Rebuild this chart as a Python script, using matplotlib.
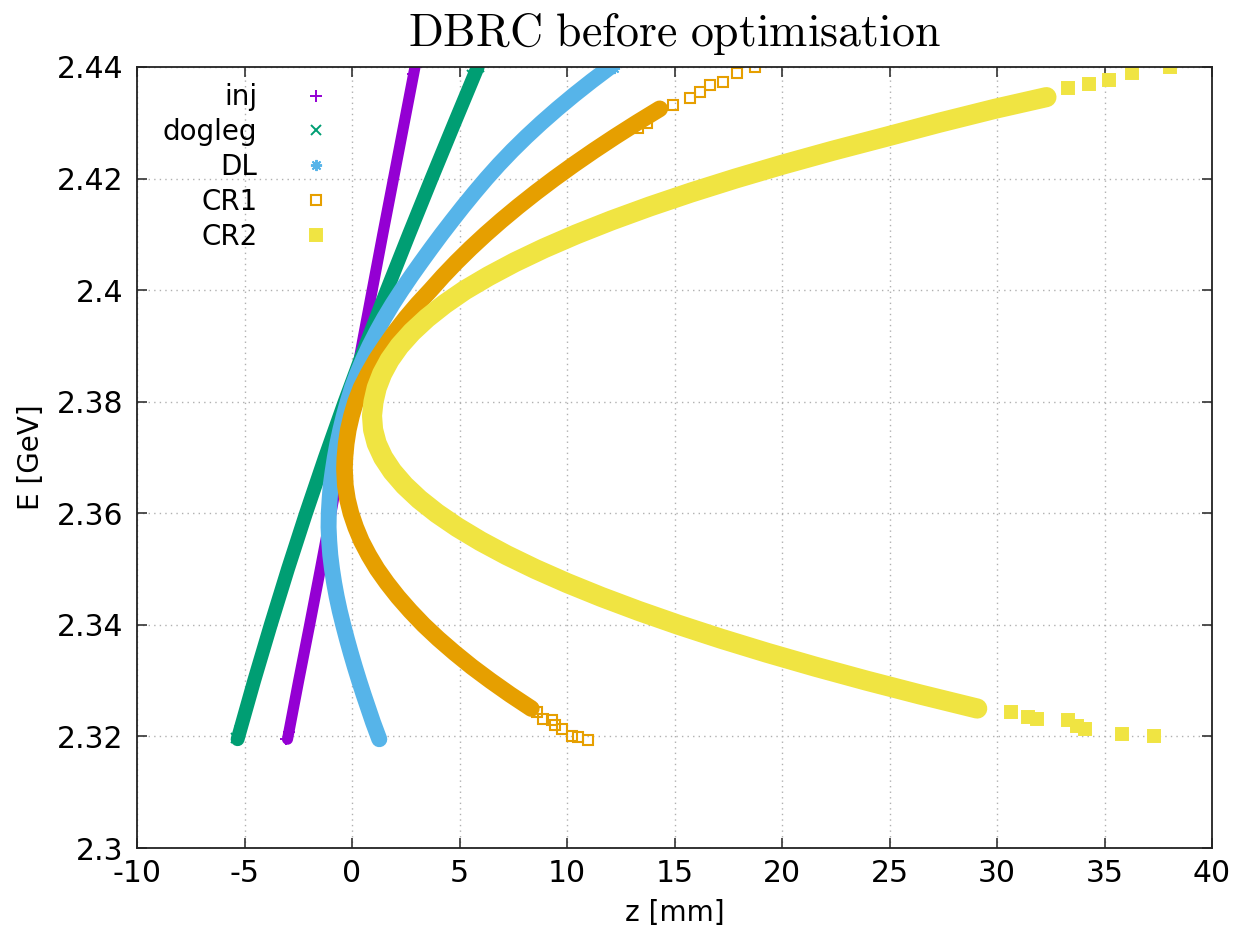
import matplotlib
matplotlib.use("Agg")
import matplotlib.pyplot as plt
from matplotlib.ticker import FormatStrFormatter, MultipleLocator

plt.rcParams["mathtext.fontset"] = "cm"
plt.rcParams["font.family"] = ["DejaVu Sans"]
plt.rcParams["axes.unicode_minus"] = False

# E [GeV] vs z [mm].
# "core" = dense part drawn as a thick band, "tail" = isolated markers.
inj_E = [2.3195, 2.33, 2.34, 2.35, 2.36, 2.37, 2.38, 2.39, 2.40, 2.41, 2.42, 2.43, 2.44]
inj_z = [-3.0, -2.48, -1.97, -1.47, -0.98, -0.5, -0.03, 0.45, 0.94, 1.43, 1.93, 2.43, 2.93]
inj_tail_E = [2.3195, 2.3208, 2.4388, 2.44]
inj_tail_z = [-3.05, -2.95, 2.85, 2.97]

dogleg_E = [2.3195, 2.33, 2.34, 2.35, 2.36, 2.37, 2.38, 2.39, 2.40, 2.41, 2.42, 2.43, 2.44]
dogleg_z = [-5.32, -4.55, -3.78, -2.98, -2.14, -1.26, -0.34, 0.62, 1.62, 2.65, 3.7, 4.77, 5.85]
dogleg_tail_E = [2.3198, 2.3212, 2.4386, 2.44]
dogleg_tail_z = [-5.4, -5.2, 5.6, 5.9]

dl_E = [2.3195, 2.3225, 2.325, 2.3275, 2.33, 2.3325, 2.335, 2.3375, 2.34, 2.3425,
        2.345, 2.3475, 2.35, 2.3525, 2.355, 2.3575, 2.36, 2.3625, 2.365, 2.3675,
        2.37, 2.3725, 2.375, 2.3775, 2.38, 2.3825, 2.385, 2.3875, 2.39, 2.3925,
        2.395, 2.3975, 2.40, 2.4025, 2.405, 2.4075, 2.41, 2.4125, 2.415, 2.4175,
        2.42, 2.4225, 2.425, 2.4275, 2.43, 2.4325, 2.435, 2.4375, 2.44]
dl_z = [1.27, 0.98, 0.76, 0.54, 0.33, 0.13, -0.06, -0.24, -0.41, -0.57,
        -0.71, -0.83, -0.93, -1.01, -1.06, -1.09, -1.08, -1.04, -0.99, -0.90,
        -0.80, -0.68, -0.54, -0.38, -0.20, 0.0, 0.24, 0.51, 0.81, 1.14,
        1.50, 1.89, 2.31, 2.75, 3.21, 3.68, 4.16, 4.66, 5.17, 5.70,
        6.25, 6.83, 7.45, 8.11, 8.81, 9.55, 10.33, 11.15, 12.01]
dl_tail_E = [2.3198, 2.4382, 2.4398]
dl_tail_z = [1.2, 11.3, 12.2]

cr1_E = [2.325, 2.3275, 2.33, 2.3325, 2.335, 2.3375, 2.34, 2.3425, 2.345, 2.3475,
         2.35, 2.3525, 2.355, 2.3575, 2.36, 2.3625, 2.365, 2.368, 2.37, 2.3725,
         2.375, 2.3775, 2.38, 2.3825, 2.385, 2.3875, 2.39, 2.3925, 2.395, 2.3975,
         2.40, 2.4025, 2.405, 2.4075, 2.41, 2.4125, 2.415, 2.4175, 2.42, 2.4225,
         2.425, 2.4275, 2.43, 2.4325]
cr1_z = [8.34, 7.36, 6.44, 5.57, 4.77, 4.02, 3.33, 2.71, 2.14, 1.63,
         1.17, 0.78, 0.44, 0.17, -0.05, -0.21, -0.31, -0.35, -0.33, -0.27,
         -0.17, -0.02, 0.17, 0.42, 0.75, 1.12, 1.55, 2.0, 2.5, 3.05,
         3.65, 4.23, 4.85, 5.51, 6.21, 6.95, 7.73, 8.55, 9.41, 10.31,
         11.25, 12.23, 13.25, 14.31]
cr1_tail_E = [2.3244, 2.3232, 2.3229, 2.3220, 2.3214, 2.3201, 2.3199, 2.3193,
              2.4291, 2.4299, 2.4332, 2.4344, 2.4356, 2.4368, 2.4374, 2.4389, 2.4400]
cr1_tail_z = [8.59, 8.9, 9.29, 9.44, 9.75, 10.22, 10.5, 10.98,
              13.3, 13.7, 14.93, 15.7, 16.2, 16.65, 17.26, 17.9, 18.74]

cr2_E = [2.325, 2.3275, 2.33, 2.3325, 2.335, 2.3375, 2.34, 2.3425, 2.345, 2.3475,
         2.35, 2.3525, 2.355, 2.3575, 2.36, 2.3625, 2.365, 2.3675, 2.37, 2.3725,
         2.375, 2.3775, 2.38, 2.3825, 2.385, 2.3875, 2.39, 2.3925, 2.395, 2.3975,
         2.40, 2.4025, 2.405, 2.4075, 2.41, 2.4125, 2.415, 2.4175, 2.42, 2.4225,
         2.425, 2.4275, 2.43, 2.4325, 2.4346]
cr2_z = [29.08, 26.44, 23.93, 21.55, 19.3, 17.18, 15.19, 13.33, 11.6, 10.0,
         8.53, 7.19, 5.98, 4.9, 3.95, 3.13, 2.44, 1.88, 1.45, 1.15,
         0.98, 0.93, 1.0, 1.15, 1.4, 1.75, 2.21, 2.79, 3.49, 4.31,
         5.25, 6.35, 7.57, 8.93, 10.43, 12.07, 13.85, 15.77, 17.83, 20.03,
         22.37, 24.85, 27.3, 29.9, 32.3]
cr2_tail_E = [2.3200, 2.3205, 2.3214, 2.3218, 2.3229, 2.3232, 2.3235, 2.3243,
              2.4362, 2.4370, 2.4377, 2.4389, 2.4400]
cr2_tail_z = [37.3, 35.8, 34.1, 33.7, 33.3, 31.85, 31.45, 30.65,
              33.3, 34.3, 35.2, 36.3, 38.05]

labels = ["inj", "dogleg", "DL", "CR1", "CR2"]
colors = ["#9400d3", "#009e73", "#56b4e9", "#e69f00", "#f0e442"]

fig = plt.figure(figsize=(12.38, 9.33), dpi=100)
ax = fig.add_axes([137 / 1238, 85 / 933, 1075 / 1238, 781 / 933])

series = [
    (inj_E, inj_z, inj_tail_E, inj_tail_z, "+", 8.0, 8, "full"),
    (dogleg_E, dogleg_z, dogleg_tail_E, dogleg_tail_z, "x", 10.0, 7, "full"),
    (dl_E, dl_z, dl_tail_E, dl_tail_z, (8, 2, 0), 11.5, 8, "full"),
    (cr1_E, cr1_z, cr1_tail_E, cr1_tail_z, "s", 12.0, 7.5, "none"),
    (cr2_E, cr2_z, cr2_tail_E, cr2_tail_z, "s", 14.5, 8, "full"),
]

for (E, z, tE, tz, mk, band, ms, fill), lab, col in zip(series, labels, colors):
    ax.plot(z, E, color=col, lw=band, solid_joinstyle="round",
            solid_capstyle="round")
    if fill == "none":
        ax.plot(tz, tE, ls="none", marker=mk, ms=ms, mfc="none", mec=col,
                mew=1.5, label=lab)
    else:
        ax.plot(tz, tE, ls="none", marker=mk, ms=ms, color=col, mew=1.4,
                label=lab)

ax.set_xlim(-10, 40)
ax.set_ylim(2.3, 2.44)
ax.xaxis.set_major_locator(MultipleLocator(5))
ax.yaxis.set_major_locator(MultipleLocator(0.02))
ax.yaxis.set_major_formatter(FormatStrFormatter("%g"))
ax.tick_params(direction="in", length=7, width=1.2, labelsize=21.5,
               top=True, right=True, color="#333333")
ax.tick_params(axis="y", pad=10)
ax.tick_params(axis="x", pad=8)
ax.grid(True, color="#b0b0b0", ls=(0, (1, 3)), lw=1.0)
for sp in ax.spines.values():
    sp.set_linewidth(1.3)
    sp.set_color("#222222")

ax.set_xlabel("z [mm]", fontsize=20, labelpad=8)
ax.set_ylabel("E [GeV]", fontsize=20, labelpad=8)
ax.set_title(r"$\mathrm{DBRC\ before\ optimisation}$", fontsize=33, pad=15)

ax.legend(loc="upper left", bbox_to_anchor=(0.024, 0.979), fontsize=20,
          markerfirst=False, frameon=False, handlelength=1.0,
          handletextpad=1.6, labelspacing=0.245, borderpad=0,
          borderaxespad=0)

fig.savefig("out.png", dpi=100)
